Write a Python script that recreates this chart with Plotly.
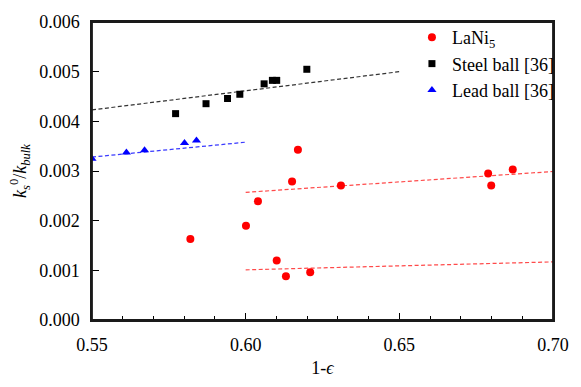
import plotly.graph_objects as go

# LaNi5 data
lani_x = [0.5820, 0.6001, 0.6040, 0.6170, 0.6151, 0.6310, 0.6789, 0.6799, 0.6869, 0.6101, 0.6131, 0.6210]
lani_y = [0.00163, 0.00190, 0.00239, 0.00343, 0.00279, 0.00271, 0.00295, 0.00271, 0.00303, 0.00120, 0.00088, 0.00096]

# Steel ball [36]
steel_x = [0.5772, 0.5871, 0.5941, 0.5981, 0.6060, 0.6087, 0.6101, 0.6199]
steel_y = [0.004155, 0.004355, 0.00446, 0.004545, 0.004755, 0.004825, 0.004825, 0.005048]

# Lead ball [36]
lead_x = [0.5500, 0.5612, 0.5671, 0.5801, 0.5840]
lead_y = [0.003245, 0.003371, 0.003417, 0.003562, 0.003614]

# Fit lines (endpoints)
steel_fit_x = [0.55, 0.65]
steel_fit_y = [0.00423, 0.00500]
lead_fit_x = [0.55, 0.60]
lead_fit_y = [0.00328, 0.00358]
lani_fit_hi_x = [0.60, 0.70]
lani_fit_hi_y = [0.00257, 0.00299]
lani_fit_lo_x = [0.60, 0.70]
lani_fit_lo_y = [0.00101, 0.00117]

x_tickvals = [0.55, 0.60, 0.65, 0.70]
x_ticktext = ["0.55", "0.60", "0.65", "0.70"]
y_tickvals = [0, 0.001, 0.002, 0.003, 0.004, 0.005, 0.006]
y_ticktext = ["0.000", "0.001", "0.002", "0.003", "0.004", "0.005", "0.006"]

FONT = "Liberation Serif, DejaVu Serif, serif"

fig = go.Figure()

dash = "4px,2.5px"
fig.add_trace(go.Scatter(x=steel_fit_x, y=steel_fit_y, mode="lines",
                         line=dict(color="#333333", width=1.2, dash=dash), showlegend=False))
fig.add_trace(go.Scatter(x=lead_fit_x, y=lead_fit_y, mode="lines",
                         line=dict(color="#3a3aff", width=1.2, dash=dash), showlegend=False))
fig.add_trace(go.Scatter(x=lani_fit_hi_x, y=lani_fit_hi_y, mode="lines",
                         line=dict(color="#ff4a4a", width=1.2, dash=dash), showlegend=False))
fig.add_trace(go.Scatter(x=lani_fit_lo_x, y=lani_fit_lo_y, mode="lines",
                         line=dict(color="#ff4a4a", width=1.2, dash=dash), showlegend=False))

fig.add_trace(go.Scatter(x=lani_x, y=lani_y, mode="markers", name="LaNi<sub>5</sub>",
                         legendgroup="a",
                         marker=dict(symbol="circle", size=8, color="#ff0000")))
fig.add_trace(go.Scatter(x=steel_x, y=steel_y, mode="markers", name="Steel ball [36]",
                         legendgroup="b",
                         marker=dict(symbol="square", size=7, color="#000000")))
fig.add_trace(go.Scatter(x=lead_x, y=lead_y, mode="markers", name="Lead ball [36]",
                         legendgroup="c",
                         marker=dict(symbol="triangle-up", size=8, color="#0000ff")))

fig.add_shape(type="rect", xref="paper", yref="paper", x0=0, y0=0, x1=1, y1=1,
              line=dict(color="#1a1a1a", width=1.8), fillcolor="rgba(0,0,0,0)", layer="above")

fig.update_layout(
    width=581, height=387,
    margin=dict(l=92, r=25, t=15, b=58),
    plot_bgcolor="white", paper_bgcolor="white",
    font=dict(family=FONT, size=18, color="black"),
    legend=dict(x=0.694, y=1.01, xanchor="left", yanchor="top",
                bgcolor="rgba(0,0,0,0)", tracegroupgap=0,
                font=dict(family=FONT, size=18)),
    xaxis=dict(range=[0.55, 0.70], tickvals=x_tickvals, ticktext=x_ticktext,
               ticks="inside", ticklen=7, tickcolor="black", tickwidth=1,
               ticklabelstandoff=8,
               minor=dict(dtick=0.01, tick0=0.55, ticks="inside", ticklen=4, tickcolor="black"),
               showline=True, linecolor="#1a1a1a", linewidth=1.5, mirror=True,
               showgrid=False, zeroline=False,
               title=dict(text="1-<i>ϵ</i>", standoff=7, font=dict(family=FONT, size=18))),
    yaxis=dict(range=[0, 0.006], tickvals=y_tickvals, ticktext=y_ticktext,
               ticks="inside", ticklen=7, tickcolor="black", tickwidth=1,
               ticklabelstandoff=7,
               showline=True, linecolor="#1a1a1a", linewidth=1.5, mirror=True,
               showgrid=False, zeroline=False,
               title=dict(text="<i>k</i><sub><i>s</i></sub><sup>0</sup>/<i>k</i><sub><i>bulk</i></sub>",
                          standoff=8, font=dict(family=FONT, size=18))),
)

fig.write_html("out.html", config={"displayModeBar": False},
               post_script="document.body.style.margin='0';")
